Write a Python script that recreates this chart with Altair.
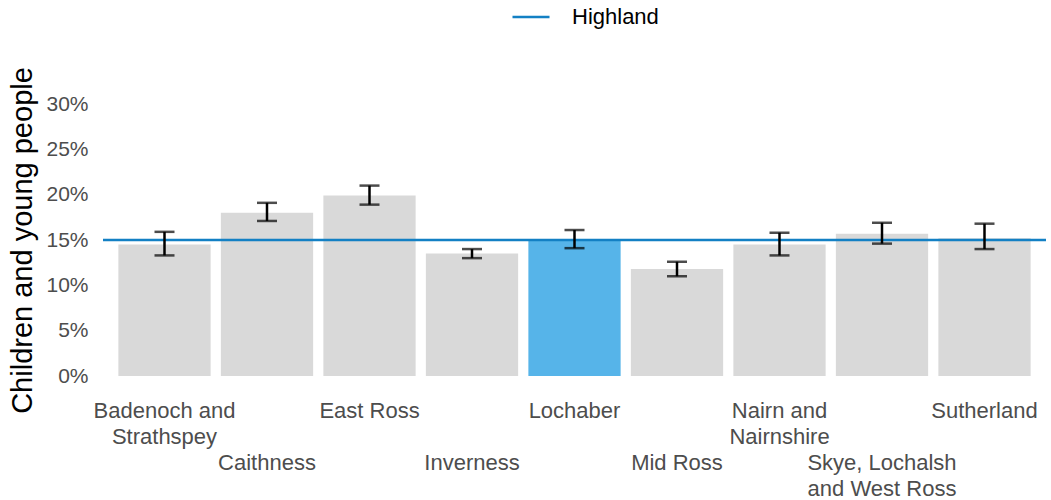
import json
import altair as alt
import pandas as pd

areas = ["Badenoch and Strathspey", "Caithness", "East Ross", "Inverness", "Lochaber",
         "Mid Ross", "Nairn and Nairnshire", "Skye, Lochalsh and West Ross", "Sutherland"]
values = [0.145, 0.180, 0.199, 0.135, 0.150, 0.118, 0.145, 0.157, 0.152]
lower = [0.133, 0.171, 0.189, 0.130, 0.141, 0.110, 0.133, 0.146, 0.140]
upper = [0.159, 0.191, 0.210, 0.140, 0.161, 0.126, 0.158, 0.169, 0.168]
highlight_area = "Lochaber"
highland_name = ["Highland"]
highland_value = [0.150]
label_lines = [["Badenoch and", "Strathspey"], ["Caithness"], ["East Ross"],
               ["Inverness"], ["Lochaber"], ["Mid Ross"],
               ["Nairn and", "Nairnshire"], ["Skye, Lochalsh", "and West Ross"],
               ["Sutherland"]]
lower_row = ["Caithness", "Inverness", "Mid Ross", "Skye, Lochalsh and West Ross"]

df = pd.DataFrame({"area": areas, "value": values, "lower": lower, "upper": upper})
hl = pd.DataFrame({"name": highland_name, "value": highland_value})

expr = "''"
for a, lines in reversed(list(zip(areas, label_lines))):
    expr = f"datum.value == {json.dumps(a)} ? {json.dumps(lines)} : ({expr})"

pad = {"condition": {"test": f"indexof({json.dumps(lower_row)}, datum.value) >= 0", "value": 76},
       "value": 24}

x = alt.X("area:N", sort=areas, title=None,
          scale=alt.Scale(paddingInner=0.1, paddingOuter=0.15),
          axis=alt.Axis(labelExpr=expr, labelAngle=0, labelFontSize=22, labelColor="#4d4d4d",
                        labelLineHeight=26, labelPadding=pad, labelBaseline="top",
                        labelOverlap=False, labelBound=False,
                        ticks=False, domain=False, labelAlign="center"))
y = alt.Y("value:Q", title="Children and young people",
          scale=alt.Scale(domain=[0, 0.30], nice=False),
          axis=alt.Axis(format=".0%", values=[0, 0.05, 0.10, 0.15, 0.20, 0.25, 0.30],
                        labelFontSize=21, labelColor="#4d4d4d", labelPadding=15,
                        titleFontSize=29, titleColor="#000000", titleFontWeight="normal",
                        titlePadding=8, grid=False, ticks=False, domain=False))

bars = alt.Chart(df).mark_bar().encode(
    x=x, y=y,
    color=alt.condition(alt.datum.area == highlight_area, alt.value("#56B4E9"), alt.value("#d9d9d9")),
)

line = alt.Chart(hl).mark_rule(strokeWidth=2.5).encode(
    y=alt.Y("value:Q"),
    color=alt.Color("name:N", scale=alt.Scale(domain=highland_name, range=["#1380c4"]),
                    legend=alt.Legend(title=None, orient="none", legendX=408, legendY=-107,
                                      symbolType="stroke", symbolStrokeWidth=2.5, symbolSize=1369,
                                      labelOffset=21,
                                      labelFontSize=22, labelColor="#000000", direction="horizontal")),
)

err = alt.Chart(df).mark_rule(color="black", strokeWidth=2.5).encode(
    x=alt.X("area:N", sort=areas), y=alt.Y("lower:Q"), y2="upper:Q")
cap_lo = alt.Chart(df).mark_tick(color="black", thickness=2.5, size=20).encode(
    x=alt.X("area:N", sort=areas), y=alt.Y("lower:Q"))
cap_hi = alt.Chart(df).mark_tick(color="black", thickness=2.5, size=20).encode(
    x=alt.X("area:N", sort=areas), y=alt.Y("upper:Q"))

chart = alt.layer(bars, line, err, cap_lo, cap_hi).properties(
    width=943, height=272,
    autosize=alt.AutoSizeParams(type="none"),
    padding={"left": 103, "top": 104, "right": 5, "bottom": 124},
).configure(font="Liberation Sans").configure_view(stroke=None)

chart.save("out.html", embed_options={"renderer": "svg", "actions": False})
